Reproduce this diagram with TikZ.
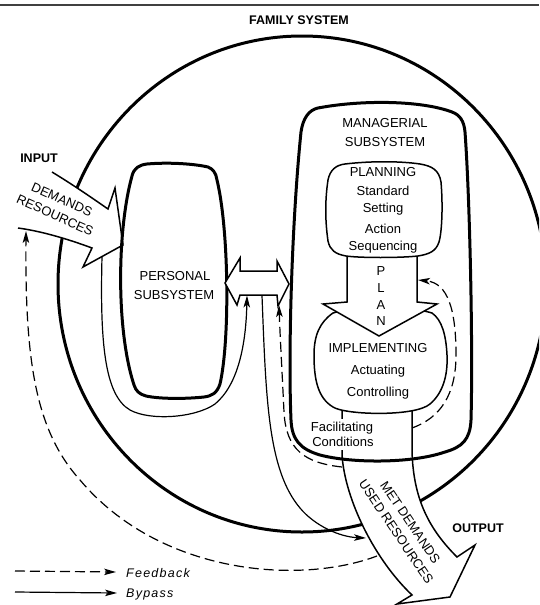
\documentclass[tikz,border=0pt]{standalone}
\usepackage{fontspec}
\setmainfont{Liberation Sans}
\newfontfamily\legendfont[LetterSpace=10]{Liberation Sans}
\usetikzlibrary{arrows.meta}
\begin{document}
\begin{tikzpicture}[x=1pt,y=-1pt,
 thickline/.style={line width=3pt, line join=round},
 medline/.style={line width=1.5pt, line join=miter},
 conn/.style={line width=1.2pt, -{Stealth[length=12pt,width=6.5pt,inset=3pt]}},
 fb/.style={conn, dash pattern=on 10pt off 5pt},
 txt/.style={font=\fontsize{13}{15}\selectfont, text height=9.4pt, text depth=0pt, inner sep=0pt},
 btxt/.style={font=\bfseries\fontsize{12.5}{15}\selectfont, text height=9pt, text depth=0pt, inner sep=0pt},
 rtxt/.style={font=\fontsize{13}{17}\selectfont, align=center, inner sep=0pt},
 ltxt/.style={font=\legendfont\itshape\fontsize{12.5}{15}\selectfont, anchor=west, text height=9pt, text depth=0pt, inner sep=0pt},
]
\useasboundingbox (0,0) rectangle (539,605);
\clip (0,0) rectangle (539,605);

% top rule
\draw[line width=1.3pt, black!75] (0,5) -- (539,5);

% family system circle
\draw[thickline] (302,284) ellipse [x radius=244, y radius=248];

% input arrow
\draw[medline, fill=white] (52,172) .. controls (75,186) and (95,200) .. (108,209)
 -- (115,188) -- (123,245) -- (83,267) -- (92,248)
 .. controls (65,238) and (40,231) .. (18,228);

% output arrow
\draw[medline, fill=white] (342,411) -- (342,455) .. controls (345,500) and (375,560) .. (412,595)
 -- (397,604) -- (450,597) -- (475,545) -- (457,557)
 .. controls (430,530) and (413,500) .. (412,450) -- (412,411);

% managerial subsystem
\draw[thickline] (318,108) .. controls (360,100) and (420,100) .. (452,112)
 .. controls (460,115) and (464,121) .. (465,132)
 .. controls (470,200) and (473,350) .. (471,420)
 .. controls (470,440) and (462,447) .. (445,452)
 .. controls (410,464) and (350,463) .. (320,455)
 .. controls (300,449) and (292,440) .. (291,420)
 .. controls (288,350) and (292,220) .. (301,132)
 .. controls (303,118) and (309,110) .. (318,108) -- cycle;

% personal subsystem
\draw[thickline] (147,164) .. controls (170,162) and (195,164) .. (208,167)
 .. controls (213,169) and (216,173) .. (217,180)
 .. controls (229,230) and (230,340) .. (220,384)
 .. controls (217,393) and (212,396) .. (204,397)
 .. controls (185,399) and (160,399) .. (146,396)
 .. controls (139,394) and (136,391) .. (134,385)
 .. controls (116,330) and (117,230) .. (132,176)
 .. controls (134,168) and (139,165) .. (147,164) -- cycle;

% implementing box
\draw[medline] (333,313) .. controls (320,322) and (314,335) .. (314,355)
 .. controls (314,380) and (318,398) .. (333,407)
 .. controls (345,415) and (415,417) .. (430,404)
 .. controls (443,393) and (448,375) .. (447,355)
 .. controls (446,335) and (442,320) .. (432,313)
 .. controls (410,306) and (355,306) .. (333,313) -- cycle;

% PLAN arrow
\draw[medline, fill=white] (347,257) -- (347,302) -- (323,304) -- (379,336)
 -- (437,304) -- (417,302) -- (417,257);

% planning box
\draw[medline] (345,164) .. controls (370,161) and (400,161) .. (420,164)
 .. controls (432,166) and (439,170) .. (441,182)
 .. controls (443,205) and (442,232) .. (439,242)
 .. controls (436,251) and (430,254) .. (418,256)
 .. controls (400,258) and (360,258) .. (346,256)
 .. controls (335,254) and (330,250) .. (328,241)
 .. controls (325,220) and (325,200) .. (328,180)
 .. controls (330,170) and (336,165) .. (345,164) -- cycle;

% double arrow between subsystems
\draw[medline, fill=white] (225,283) -- (240,258) -- (240,271) -- (277,271) -- (277,261)
 -- (289,284) -- (278,306) -- (277,295) -- (240,295) -- (237,305) -- cycle;

% connector end points
\coordinate (b1s) at (102,256.5);
\coordinate (b1e) at (247,295.5);
\coordinate (b2s) at (262,295.5);
\coordinate (b2e) at (366,538);
\coordinate (f1s) at (377,556);
\coordinate (f1e) at (26,231);
\coordinate (f2s) at (342,467);
\coordinate (f2e) at (279,305);
\coordinate (f3s) at (412,428);
\coordinate (f3e) at (418,280);

% bypass lines
\draw[conn] (b1s) .. controls (100,340) and (104,395) .. (130,410)
 .. controls (150,421) and (195,418) .. (215,404)
 .. controls (238,385) and (246,345) .. (b1e);
\draw[conn] (b2s) .. controls (266,400) and (268,470) .. (300,508)
 .. controls (315,526) and (340,537) .. (b2e);

% feedback lines
\draw[fb] (f1s) .. controls (300,585) and (160,575) .. (80,480)
 .. controls (35,430) and (25,360) .. (f1e);
\draw[fb] (f2s) .. controls (305,463) and (286,450) .. (284,412)
 .. controls (282,370) and (280,335) .. (f2e);
\draw[fb] (f3s) .. controls (440,418) and (456,395) .. (456,355)
 .. controls (456,310) and (448,283) .. (f3e);

% texts
\node[btxt] (fam) at (299,20) {FAMILY SYSTEM};
\node[btxt] (inp) at (39,158) {INPUT};
\node[btxt] (outp) at (478,528) {OUTPUT};
\node[rtxt, rotate=-24] (demres) at (58.5,207.5) {DEMANDS\\RESOURCES};
\node[rtxt, rotate=-56] (metused) at (403.25,527.25) {MET DEMANDS\\USED RESOURCES};
\node[txt] (pers1) at (175,275.5) {PERSONAL};
\node[txt] (pers2) at (174,294.5) {SUBSYSTEM};
\node[txt] (man1) at (385,123) {MANAGERIAL};
\node[txt] (man2) at (385,142) {SUBSYSTEM};
\node[txt] (pl1) at (383,172) {PLANNING};
\node[txt] (pl2) at (383,191) {Standard};
\node[txt] (pl3) at (383,208) {Setting};
\node[txt] (pl4) at (383,229) {Action};
\node[txt] (pl5) at (383,246) {Sequencing};
\node[txt] (lp) at (381,271) {P};
\node[txt] (ll) at (381,288) {L};
\node[txt] (la) at (381,305) {A};
\node[txt] (ln) at (381,321) {N};
\node[txt] (im1) at (378,348) {IMPLEMENTING};
\node[txt] (im2) at (378,370) {Actuating};
\node[txt] (im3) at (378,392) {Controlling};
\node[txt, fill=white, inner xsep=1pt, inner ysep=3pt] (fc1) at (342,427) {Facilitating};
\node[txt, fill=white, inner xsep=1pt, inner ysep=3pt] (fc2) at (343,442) {Conditions};

% legend
\coordinate (lf1) at (15,571);
\coordinate (lf2) at (116,572);
\coordinate (lb1) at (15,592);
\coordinate (lb2) at (117,593);
\draw[fb] (lf1) -- (lf2);
\draw[conn] (lb1) -- (lb2);
\node[ltxt] (lfb) at (126,573) {Feedback};
\node[ltxt] (lbp) at (126,593) {Bypass};
\end{tikzpicture}
\end{document}
